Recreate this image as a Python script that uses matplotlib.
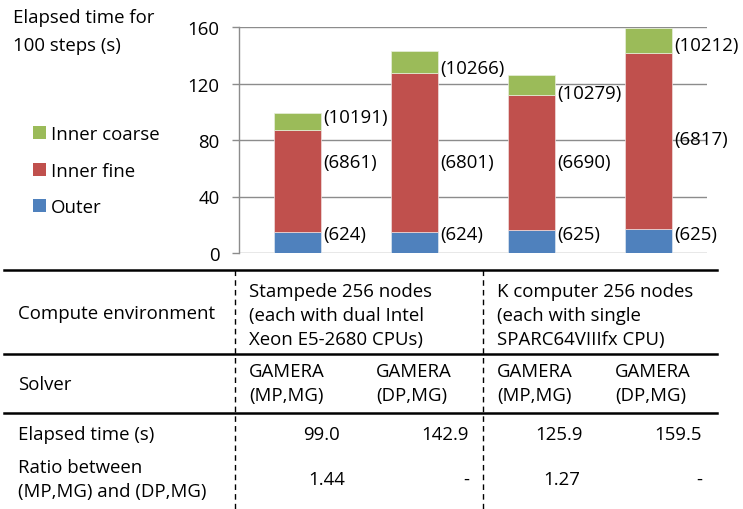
import matplotlib
matplotlib.use("Agg")
import matplotlib.pyplot as plt
from matplotlib.patches import Patch
import numpy as np

# ---------------- data ----------------
categories = ["Stampede (MP,MG)", "Stampede (DP,MG)", "K (MP,MG)", "K (DP,MG)"]
outer = [14.9, 14.9, 16.3, 16.8]
inner_fine = [72.2, 112.7, 95.8, 125.0]
inner_coarse = [11.9, 15.3, 13.8, 17.7]
outer_iter = ["(624)", "(624)", "(625)", "(625)"]
fine_iter = ["(6861)", "(6801)", "(6690)", "(6817)"]
coarse_iter = ["(10191)", "(10266)", "(10279)", "(10212)"]
yticks = [0, 40, 80, 120, 160]

row_headers = ["Compute environment", "Solver", "Elapsed time (s)",
               "Ratio between\n(MP,MG) and (DP,MG)"]
env_labels = ["Stampede 256 nodes\n(each with dual Intel\nXeon E5-2680 CPUs)",
              "K computer 256 nodes\n(each with single\nSPARC64VIIIfx CPU)"]
solver_labels = ["GAMERA\n(MP,MG)", "GAMERA\n(DP,MG)", "GAMERA\n(MP,MG)", "GAMERA\n(DP,MG)"]
elapsed_vals = ["99.0", "142.9", "125.9", "159.5"]
ratio_vals = ["1.44", "-", "1.27", "-"]

# ---------------- style ----------------
FONT = ["Open Sans", "DejaVu Sans"]
plt.rcParams["font.family"] = FONT
FS = 13.4
C_OUT, C_FINE, C_COARSE = "#4F81BD", "#C0504D", "#9BBB59"
GRID = "#8C8C8C"

W, H = 743, 510
fig = plt.figure(figsize=(W / 100, H / 100), dpi=100)

# chart axes (pixel layout: x 239..707, y 28..254)
ax = fig.add_axes([239 / W, (H - 254) / H, 468 / W, 226 / H])
x = np.arange(len(categories))
bw = 0.4
ax.bar(x, outer, bw, color=C_OUT, edgecolor="#dde6f0", linewidth=0.5, zorder=3)
ax.bar(x, inner_fine, bw, bottom=outer, color=C_FINE, edgecolor="#f0dede", linewidth=0.5, zorder=3)
bot2 = np.array(outer) + np.array(inner_fine)
ax.bar(x, inner_coarse, bw, bottom=bot2, color=C_COARSE, edgecolor="#e8f0dc", linewidth=0.5, zorder=3)

ax.set_xlim(-0.5, len(categories) - 0.5)
ax.set_ylim(0, 160)
ax.set_yticks(yticks)
ax.set_yticklabels([str(v) for v in yticks], fontsize=FS)
ax.set_xticks([])
ax.yaxis.grid(True, color=GRID, linewidth=1.0, zorder=0)
for s in ["top", "right", "bottom"]:
    ax.spines[s].set_visible(False)
ax.spines["left"].set_color(GRID)
ax.spines["left"].set_linewidth(1.0)
ax.tick_params(axis="y", direction="out", length=5, width=1.0, color=GRID, pad=9)

# iteration labels (manual vertical placement as in the original)
outer_lab_y = [13.5, 13.5, 13.5, 13.5]
fine_lab_y = [64.4, 64.4, 64.4, 80.7]
coarse_lab_y = [96.3, 131.0, 113.1, 147.5]
for i in range(len(categories)):
    xl = x[i] + bw / 2 + 0.02
    ax.text(xl, outer_lab_y[i], outer_iter[i], fontsize=FS, va="center", ha="left")
    ax.text(xl, fine_lab_y[i], fine_iter[i], fontsize=FS, va="center", ha="left")
    ax.text(xl, coarse_lab_y[i], coarse_iter[i], fontsize=FS, va="center", ha="left")

# overlay in pixel coordinates for labels, legend and table
ov = fig.add_axes([0, 0, 1, 1], zorder=-1)
ov.set_xlim(0, W)
ov.set_ylim(H, 0)
ov.axis("off")

ov.text(13, 32, "Elapsed time for\n100 steps (s)", fontsize=FS, ha="left", va="center",
        linespacing=1.66)

# legend
leg_items = [("Inner coarse", C_COARSE), ("Inner fine", C_FINE), ("Outer", C_OUT)]
handles = [Patch(facecolor=c, edgecolor="none", label=l) for l, c in leg_items]
fig.legend(handles=handles, loc="upper left", bbox_to_anchor=(33 / W, 1 - 126 / H),
           frameon=False, fontsize=FS, handlelength=0.7, handleheight=0.7,
           handletextpad=0.25, labelspacing=1.0, borderaxespad=0, borderpad=0)

# table lines
ov.plot([4, 717], [271, 271], color="black", lw=1.8)
ov.plot([4, 717], [355, 355], color="black", lw=1.8)
ov.plot([4, 717], [414, 414], color="black", lw=1.8)
for xv in [235, 483]:
    ov.plot([xv, xv], [271, 510], color="black", lw=1.0, linestyle=(0, (4, 3)))

# header column
ov.text(18, 314, row_headers[0], fontsize=FS, va="center", ha="left")
ov.text(18, 385, row_headers[1], fontsize=FS, va="center", ha="left")
ov.text(18, 435, row_headers[2], fontsize=FS, va="center", ha="left")
ov.text(18, 480, row_headers[3], fontsize=FS, va="center", ha="left", linespacing=1.4)

# environment row
for xe, t in zip([249, 497], env_labels):
    ov.text(xe, 316, t, fontsize=FS, va="center", ha="left", linespacing=1.45)

# solver row
for xs, t in zip([249, 376, 497, 615], solver_labels):
    ov.text(xs, 384, t, fontsize=FS, va="center", ha="left", linespacing=1.4)

# elapsed row
for xr, t in zip([340, 469, 583, 702], elapsed_vals):
    ov.text(xr, 435, t, fontsize=FS, va="center", ha="right")

# ratio row
ratio_x = [327, 469, 562, 702]
ratio_ha = ["center", "right", "center", "right"]
for xr, t, ha in zip(ratio_x, ratio_vals, ratio_ha):
    ov.text(xr, 480, t, fontsize=FS, va="center", ha=ha)

fig.savefig("out.png", dpi=100)
